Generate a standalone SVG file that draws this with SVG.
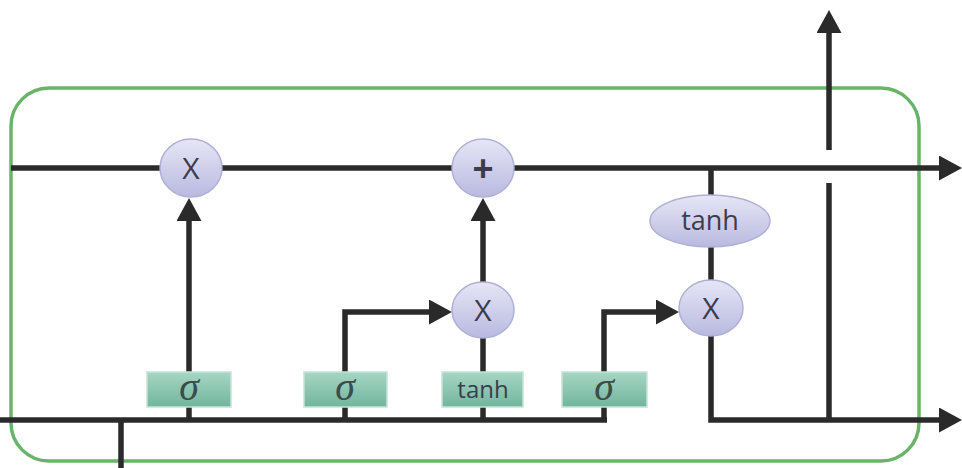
<svg xmlns="http://www.w3.org/2000/svg" width="962" height="468" viewBox="0 0 962 468">
<defs>
<linearGradient id="gc" x1="0" y1="0" x2="0" y2="1">
<stop offset="0" stop-color="#e6e6f6"/>
<stop offset="1" stop-color="#b9b9e0"/>
</linearGradient>
<linearGradient id="gg" x1="0" y1="0" x2="0" y2="1">
<stop offset="0" stop-color="#a6d6c4"/>
<stop offset="1" stop-color="#72b59e"/>
</linearGradient>
<marker id="ah" viewBox="0 0 23 25" refX="2" refY="12.5" markerWidth="23" markerHeight="25" markerUnits="userSpaceOnUse" orient="auto">
<path d="M0,0 L23,12.5 L0,25 z" fill="#2a2a2a"/>
</marker>
</defs>
<style>
.ln{fill:none;stroke:#2a2a2a;stroke-width:5.5;stroke-linejoin:miter}
.op{fill:url(#gc);stroke:#b0b0d6;stroke-width:1.5}
.gate{fill:url(#gg);stroke:#c6e4d8;stroke-width:1.5}
.t{font-family:"Open Sans","Liberation Sans","DejaVu Sans",sans-serif;fill:#3c3c4c;text-anchor:middle}
.s{font-family:"Liberation Serif","DejaVu Serif",serif;font-style:italic;fill:#3c4c48;text-anchor:middle;font-size:40px}
</style>
<rect width="962" height="468" fill="#ffffff"/>
<rect id="cell" x="11" y="88" width="908" height="373" rx="38" ry="38" fill="none" stroke="#6ab46a" stroke-width="3.5"/>
<g id="connectors">
<line class="ln" x1="11" y1="168" x2="941" y2="168" marker-end="url(#ah)"/>
<line class="ln" x1="0" y1="420" x2="607" y2="420"/>
<path class="ln" d="M711,335 L711,420 L941,420" marker-end="url(#ah)"/>
<line class="ln" x1="121" y1="418" x2="121" y2="468"/>
<line class="ln" x1="829" y1="420" x2="829" y2="183"/>
<line class="ln" x1="829" y1="150" x2="829" y2="31" marker-end="url(#ah)"/>
<line class="ln" x1="189" y1="420" x2="189" y2="219" marker-end="url(#ah)"/>
<path class="ln" d="M345,420 L345,312 L431,312" marker-end="url(#ah)"/>
<line class="ln" x1="483" y1="420" x2="483" y2="337"/>
<line class="ln" x1="483" y1="282" x2="483" y2="219" marker-end="url(#ah)"/>
<path class="ln" d="M604,420 L604,312 L658,312" marker-end="url(#ah)"/>
<line class="ln" x1="711" y1="168" x2="711" y2="196"/>
<line class="ln" x1="711" y1="246" x2="711" y2="282"/>
</g>
<g id="forget-mult">
<ellipse class="op" cx="191" cy="168" rx="31" ry="29"/>
<text class="t" x="191" y="179" font-size="30">X</text>
</g>
<g id="add">
<ellipse class="op" cx="483" cy="168" rx="31" ry="29"/>
<text x="483" y="181" font-size="36" font-weight="bold" font-family="'Liberation Sans','DejaVu Sans',sans-serif" fill="#3c3c4c" text-anchor="middle">+</text>
</g>
<g id="input-mult">
<ellipse class="op" cx="483" cy="310" rx="31" ry="28"/>
<text class="t" x="483" y="321" font-size="30">X</text>
</g>
<g id="output-mult">
<ellipse class="op" cx="711" cy="308" rx="32" ry="28"/>
<text class="t" x="711" y="319" font-size="30">X</text>
</g>
<g id="tanh-cell">
<ellipse class="op" cx="710" cy="221" rx="60" ry="26"/>
<text class="t" x="710" y="230" font-size="27">tanh</text>
</g>
<g id="sigma-forget">
<rect class="gate" x="147" y="372" width="84" height="35"/>
<text class="s" x="189" y="400">σ</text>
</g>
<g id="sigma-input">
<rect class="gate" x="304" y="372" width="83" height="35"/>
<text class="s" x="345" y="400">σ</text>
</g>
<g id="tanh-gate">
<rect class="gate" x="442" y="372" width="81" height="35"/>
<text class="t" x="483" y="398" font-size="24" fill="#3c4c48">tanh</text>
</g>
<g id="sigma-output">
<rect class="gate" x="562" y="372" width="85" height="35"/>
<text class="s" x="604" y="400">σ</text>
</g>
</svg>
